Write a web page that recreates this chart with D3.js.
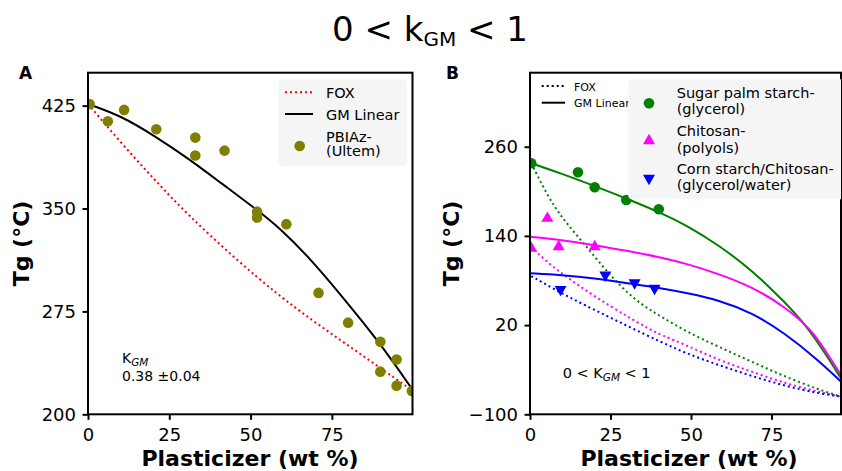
<!DOCTYPE html>
<html>
<head>
<meta charset="utf-8">
<script src="https://cdn.jsdelivr.net/npm/d3@7"></script>
<style>
  body { margin: 0; background: #fff; }
  text { font-family: "DejaVu Sans", sans-serif; white-space: pre; }
</style>
</head>
<body>
<svg id="chart" width="842" height="471"></svg>
<script>
// ---- panel A : PBIAz / Ultem ----
var ticksAx = [0, 25, 50, 75];
var ticksAy = [200, 275, 350, 425];
var pbiazX = [0.5, 6.1, 11.1, 21.0, 33.0, 33.0, 42.0, 52.0, 52.0, 61.0, 70.9, 80.0, 89.9, 94.9, 89.9, 94.9, 99.6];
var pbiazY = [426.2, 413.6, 421.9, 407.8, 401.7, 388.6, 392.2, 347.7, 343.4, 338.6, 288.5, 266.8, 252.8, 239.9, 231.1, 220.9, 217.0];
var foxA = [[0, 426.2], [10.25, 397.6], [20.5, 370.8], [30.75, 345.3], [45.1, 313.8], [58.5, 287], [68.8, 268.8], [79, 251.8], [89.3, 234.8], [99.5, 217.8]];
var gmA = [[0, 426.2], [10.25, 417.5], [20.5, 402.9], [30.75, 386.7], [41, 368.4], [52.3, 348.5], [58.5, 336.8], [68.8, 312.5], [79, 283.4], [89.3, 253.5], [99.5, 219]];

// ---- panel B : starch / chitosan ----
var ticksBx = [0, 25, 50, 75];
var ticksBy = [-100, 20, 140, 260];
var sugarX = [0.4, 14.9, 20.1, 29.9, 40.0];
var sugarY = [237.7, 225.6, 205.4, 188.3, 175.8];
var chitosanX = [0.4, 5.4, 8.9, 20.1];
var chitosanY = [123.3, 163.6, 125.5, 125.5];
var cornX = [9.5, 23.4, 32.5, 38.7];
var cornY = [68.1, 87.4, 77.0, 69.5];
var gmSugar = [[0.4, 237.7], [9.7, 224], [20.1, 207.1], [30.4, 189.6], [40.8, 170.8], [49.1, 153.3], [58.5, 127.8], [68.9, 94.1], [79.2, 51], [86.4, 16.1], [91.6, -17.5], [96.6, -51.6]];
var gmChitosan = [[0, 139], [9.7, 134.5], [20.1, 127.8], [30.4, 119.7], [40.8, 111], [49.1, 102], [58.5, 89], [68.9, 71.7], [79.2, 44.8], [87.5, 13.4], [91.6, -13.5], [96.6, -47.1]];
var gmCorn = [[0, 89.7], [9.7, 87.4], [20.1, 83], [30.4, 76.2], [40.8, 69.5], [49.1, 62.8], [58.5, 53.8], [68.9, 37], [79.2, 9], [89.5, -27], [96.6, -56.1]];
var foxSugar = [[0.4, 237.7], [5.6, 192.7], [9.7, 165.8], [14.9, 139], [20.1, 112], [25.3, 85.1], [30.4, 62.8], [35.6, 44.8], [40.8, 31.3], [48.6, 11.1], [58.5, -9], [68.9, -29.2], [79.2, -49.4], [89.5, -66.4], [96.6, -76.3]];
var foxChitosan = [[0.3, 125.5], [4.6, 107.6], [9.7, 89.7], [20.1, 58.2], [30.4, 31.3], [36.6, 15.7], [40.8, 6.5], [48.6, -7], [58.5, -26.9], [68.9, -42.7], [79.2, -58.3], [89.5, -69.6], [96.6, -76.3]];
var foxCorn = [[0.4, 86], [9.7, 62.8], [20.1, 40.3], [30.4, 18.5], [40.8, -3], [48.5, -18], [58.5, -33.7], [68.9, -48.5], [79.2, -61.9], [89.5, -71.7], [96.6, -76.3]];

var svg = d3.select("#chart");

function makePanel(id, left, right, top, bottom, xDom, yDom, xt, yt) {
  var x = d3.scaleLinear().domain(xDom).range([left, right]);
  var y = d3.scaleLinear().domain(yDom).range([bottom, top]);
  svg.append("clipPath").attr("id", id)
    .append("rect").attr("x", left).attr("y", top)
    .attr("width", right - left).attr("height", bottom - top);

  var gx = svg.append("g").attr("transform", "translate(0," + bottom + ")")
    .call(d3.axisBottom(x).tickValues(xt).tickSize(5.5).tickPadding(8.5).tickFormat(d3.format("d")));
  var gy = svg.append("g").attr("transform", "translate(" + left + ",0)")
    .call(d3.axisLeft(y).tickValues(yt).tickSize(5.5).tickPadding(6.5).tickFormat(d3.format("d")));
  [gx, gy].forEach(function(g) {
    g.select(".domain").remove();
    g.selectAll(".tick line").attr("stroke", "#000").attr("stroke-width", 2);
    g.selectAll(".tick text").attr("fill", "#000").style("font-size", "18px")
      .style("font-family", "DejaVu Sans, sans-serif");
  });
  var plot = svg.append("g").attr("clip-path", "url(#" + id + ")");
  return { x: x, y: y, plot: plot, left: left, right: right, top: top, bottom: bottom };
}

function curve(p, pts, color, dotted) {
  var line = d3.line().x(function(d) { return p.x(d[0]); }).y(function(d) { return p.y(d[1]); })
    .curve(d3.curveBasis);
  p.plot.append("path").datum(pts).attr("d", line)
    .attr("fill", "none").attr("stroke", color).attr("stroke-width", 2)
    .attr("stroke-dasharray", dotted ? "2,3" : null);
}

function frame(p) {
  svg.append("rect").attr("x", p.left).attr("y", p.top)
    .attr("width", p.right - p.left).attr("height", p.bottom - p.top)
    .attr("fill", "none").attr("stroke", "#000").attr("stroke-width", 2);
}

var triUp = d3.symbol(d3.symbolTriangle, 62)();

// ================= Panel A =================
var pA = makePanel("clipA", 88, 412.5, 72.7, 414.3, [0, 99.8], [200, 449], ticksAx, ticksAy);
curve(pA, foxA, "#ff0000", true);
curve(pA, gmA, "#000", false);
pA.plot.selectAll("circle.pb").data(pbiazX).enter().append("circle")
  .attr("cx", function(d) { return pA.x(d); })
  .attr("cy", function(d, i) { return pA.y(pbiazY[i]); })
  .attr("r", 5.3).attr("fill", "#808000");
frame(pA);

// legend A
var lgA = svg.append("g");
lgA.append("rect").attr("x", 278.3).attr("y", 79.3).attr("width", 128.4).attr("height", 86.7)
  .attr("rx", 4).attr("fill", "#f5f5f5");
lgA.append("line").attr("x1", 285).attr("x2", 313).attr("y1", 92.3).attr("y2", 92.3)
  .attr("stroke", "#ff0000").attr("stroke-width", 2).attr("stroke-dasharray", "2,3");
lgA.append("line").attr("x1", 285).attr("x2", 313).attr("y1", 114).attr("y2", 114)
  .attr("stroke", "#000").attr("stroke-width", 2);
lgA.append("circle").attr("cx", 299.7).attr("cy", 146).attr("r", 5.3).attr("fill", "#808000");
[["FOX", 97.5], ["GM Linear", 119.5], ["PBIAz-", 141.5], ["(Ultem)", 156]].forEach(function(t) {
  lgA.append("text").attr("x", 326).attr("y", t[1]).style("font-size", "14.5px").text(t[0]);
});

// annotation A
var kA = svg.append("text").attr("x", 122).attr("y", 363.3).style("font-size", "14px");
kA.append("tspan").text("K");
kA.append("tspan").attr("dy", 3).style("font-size", "10.5px").style("font-style", "italic").text("GM");
svg.append("text").attr("x", 122).attr("y", 380.7).style("font-size", "14px").text("0.38 \u00b10.04");

// ================= Panel B =================
var pB = makePanel("clipB", 530, 841, 72.7, 414.3, [0, 96.6], [-100, 359.6], ticksBx, ticksBy);
curve(pB, foxSugar, "#008000", true);
curve(pB, foxChitosan, "#ff00ff", true);
curve(pB, foxCorn, "#0000ff", true);
curve(pB, gmSugar, "#008000", false);
curve(pB, gmChitosan, "#ff00ff", false);
curve(pB, gmCorn, "#0000ff", false);
pB.plot.selectAll("circle.sp").data(sugarX).enter().append("circle")
  .attr("cx", function(d) { return pB.x(d); })
  .attr("cy", function(d, i) { return pB.y(sugarY[i]); })
  .attr("r", 5.3).attr("fill", "#008000");
pB.plot.selectAll("path.ch").data(chitosanX).enter().append("path")
  .attr("d", triUp).attr("fill", "#ff00ff")
  .attr("transform", function(d, i) { return "translate(" + pB.x(d) + "," + pB.y(chitosanY[i]) + ")"; });
pB.plot.selectAll("path.cs").data(cornX).enter().append("path")
  .attr("d", triUp).attr("fill", "#0000ff")
  .attr("transform", function(d, i) { return "translate(" + pB.x(d) + "," + pB.y(cornY[i]) + ") rotate(180)"; });
frame(pB);

// small line-style legend
var lgS = svg.append("g");
lgS.append("line").attr("x1", 541.7).attr("x2", 565).attr("y1", 86).attr("y2", 86)
  .attr("stroke", "#000").attr("stroke-width", 2).attr("stroke-dasharray", "2,3");
lgS.append("line").attr("x1", 541.7).attr("x2", 565).attr("y1", 102.7).attr("y2", 102.7)
  .attr("stroke", "#000").attr("stroke-width", 2);
lgS.append("text").attr("x", 574).attr("y", 90.7).style("font-size", "11px").text("FOX");
lgS.append("text").attr("x", 574).attr("y", 106.7).style("font-size", "11px").text("GM Linear");

// material legend
var lgB = svg.append("g").attr("clip-path", "url(#clipB)");
lgB.append("rect").attr("x", 628.3).attr("y", 79.3).attr("width", 220).attr("height", 120)
  .attr("rx", 4).attr("fill", "#f5f5f5");
lgB.append("circle").attr("cx", 649).attr("cy", 103.3).attr("r", 5.3).attr("fill", "#008000");
lgB.append("path").attr("d", triUp).attr("fill", "#ff00ff").attr("transform", "translate(649,140.7)");
lgB.append("path").attr("d", triUp).attr("fill", "#0000ff").attr("transform", "translate(649,178.3) rotate(180)");
[["Sugar palm starch-", 97.7], ["(glycerol)", 114.2], ["Chitosan-", 136], ["(polyols)", 152.5],
 ["Corn starch/Chitosan-", 173.7], ["(glycerol/water)", 190.2]].forEach(function(t) {
  lgB.append("text").attr("x", 676.7).attr("y", t[1]).style("font-size", "14.5px").text(t[0]);
});

// annotation B
var kB = svg.append("text").attr("x", 562.7).attr("y", 378.3).style("font-size", "14.5px");
kB.append("tspan").text("0 < K");
kB.append("tspan").attr("dy", 3).style("font-size", "10.5px").style("font-style", "italic").text("GM");
kB.append("tspan").attr("dy", -3).text(" < 1");

// ================= labels =================
[[29, pA], [459, pB]].forEach(function(a) {
  var p = a[1];
  svg.append("text").attr("transform", "translate(" + a[0] + "," + ((p.top + p.bottom) / 2) + ") rotate(-90)")
    .attr("text-anchor", "middle").style("font-size", "22px").style("font-weight", "bold").text("Tg (\u00b0C)");
});
svg.append("text").attr("x", 250).attr("y", 466).attr("text-anchor", "middle")
  .style("font-size", "22px").style("font-weight", "bold").text("Plasticizer (wt %)");
svg.append("text").attr("x", 689).attr("y", 466).attr("text-anchor", "middle")
  .style("font-size", "22px").style("font-weight", "bold").text("Plasticizer (wt %)");

svg.append("text").attr("x", 19).attr("y", 79).style("font-size", "17px").style("font-weight", "bold").text("A");
svg.append("text").attr("x", 446).attr("y", 78.5).style("font-size", "17px").style("font-weight", "bold").text("B");

// title
var title = svg.append("text").attr("x", 430).attr("y", 41).attr("text-anchor", "middle").style("font-size", "34px");
title.append("tspan").text("0 < k");
title.append("tspan").attr("dy", 4.5).style("font-size", "20px").text("GM");
title.append("tspan").attr("dy", -4.5).text(" < 1");
</script>
</body>
</html>
